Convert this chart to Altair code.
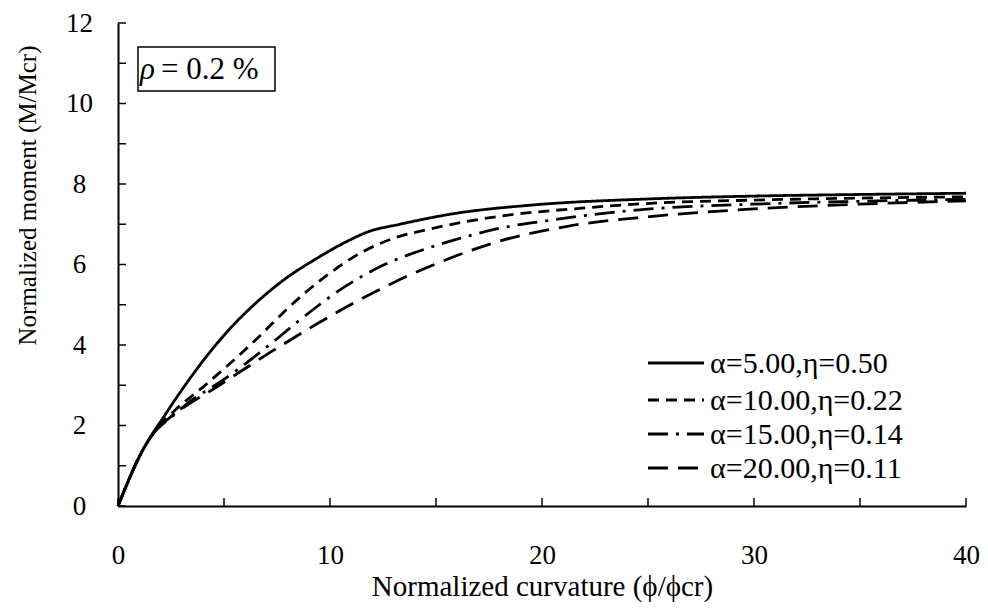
import altair as alt
import pandas as pd

# ---- data ----
series_names = ["α=5.00,η=0.50", "α=10.00,η=0.22", "α=15.00,η=0.14", "α=20.00,η=0.11"]

x_a5 = [0, 1.2, 2.2, 3.3, 4.42, 5.52, 6.23, 7.8, 9.37, 10.94, 11.73, 13.3, 15.8, 19.6, 25.1, 30, 35, 40]
y_a5 = [0, 1.42, 2.25, 3.1, 3.88, 4.54, 4.91, 5.61, 6.15, 6.61, 6.80, 7.0, 7.26, 7.48, 7.63, 7.70, 7.74, 7.77]

x_a10 = [0, 1.2, 1.67, 2.69, 3.95, 4.89, 5.68, 6.5, 7.25, 8.11, 9.68, 11.42, 12.99, 14.7, 18.0, 21.9, 25.1, 30, 35, 40]
y_a10 = [0, 1.42, 1.81, 2.38, 2.93, 3.36, 3.73, 4.13, 4.52, 4.96, 5.66, 6.28, 6.65, 6.88, 7.2, 7.40, 7.52, 7.60, 7.65, 7.68]

x_a15 = [0, 1.2, 1.67, 2.5, 3.48, 4.58, 5.83, 6.7, 7.56, 8.27, 9.5, 10.47, 11.42, 12.5, 13.6, 14.7, 15.8, 18.0, 20.4, 22.7, 25.1, 30, 35, 40]
y_a15 = [0, 1.42, 1.8, 2.2, 2.63, 3.0, 3.46, 3.82, 4.18, 4.49, 5.0, 5.37, 5.68, 5.98, 6.22, 6.42, 6.6, 6.9, 7.1, 7.26, 7.38, 7.5, 7.57, 7.62]

x_a20 = [0, 1.2, 1.67, 2.45, 3.3, 4.42, 5.83, 7.25, 8.3, 9.37, 10.79, 12.2, 13.6, 15.2, 18.0, 21.2, 25.1, 30, 35, 40]
y_a20 = [0, 1.42, 1.8, 2.2, 2.52, 2.88, 3.36, 3.84, 4.18, 4.52, 4.95, 5.34, 5.70, 6.06, 6.58, 6.95, 7.19, 7.38, 7.5, 7.58]

x_tick_labels = [0, 10, 20, 30, 40]
x_tick_marks = [0, 5, 10, 15, 20, 25, 30, 35, 40]
y_tick_labels = [0, 2, 4, 6, 8, 10, 12]
y_tick_marks = [0, 1, 2, 3, 4, 5, 6, 7, 8, 9, 10, 11, 12]

x_title = "Normalized curvature (ϕ/ϕcr)"
y_title = "Normalized moment (M/Mcr)"

# ---- styling ----
FONT = "Liberation Serif"
W, H = 848, 483
dashes = [[1, 0], [11, 7], [20, 8, 3, 8], [20, 10]]

rows = []
for name, xs, ys in zip(series_names, [x_a5, x_a10, x_a15, x_a20], [y_a5, y_a10, y_a15, y_a20]):
    for xv, yv in zip(xs, ys):
        rows.append({"series": name, "x": xv, "y": yv})
df = pd.DataFrame(rows)

xscale = alt.Scale(domain=[0, 40], nice=False, zero=False)
yscale = alt.Scale(domain=[0, 12], nice=False, zero=False)

x_axis = alt.Axis(
    values=x_tick_labels, ticks=False, tickSize=0, grid=False,
    domainColor="black", domainWidth=2,
    labelFont=FONT, labelFontSize=27, labelColor="black", labelPadding=57,
    labelBaseline="alphabetic", labelAlign="center", labelFlush=False,
    title=x_title, titleFont=FONT, titleFontSize=29, titleFontWeight="normal",
    titleColor="black", titleBaseline="alphabetic", titleY=89, titleX=W / 2,
    titleAlign="center")
y_axis = alt.Axis(
    values=y_tick_labels, ticks=False, tickSize=0, grid=False,
    domainColor="black", domainWidth=2,
    labelFont=FONT, labelFontSize=27, labelColor="black", labelPadding=39,
    labelAlign="center", labelBaseline="middle", labelFlush=False,
    title=y_title, titleFont=FONT, titleFontSize=25, titleFontWeight="normal",
    titleColor="black", titleAngle=270, titleBaseline="middle", titleAlign="center",
    titleX=-91, titleY=172)

lines = alt.Chart(df).mark_line(color="black", strokeWidth=2.8, interpolate="monotone").encode(
    x=alt.X("x:Q", scale=xscale, axis=x_axis),
    y=alt.Y("y:Q", scale=yscale, axis=y_axis),
    strokeDash=alt.StrokeDash("series:N", scale=alt.Scale(domain=series_names, range=dashes), legend=None),
    order=alt.Order("x:Q"),
)

xticks = alt.Chart(pd.DataFrame({"x": x_tick_marks})).mark_rule(color="black", strokeWidth=1.5).encode(
    x=alt.X("x:Q", scale=xscale, axis=x_axis),
    y=alt.value(H), y2=alt.value(H - 8),
)
yticks = alt.Chart(pd.DataFrame({"y": y_tick_marks})).mark_rule(color="black", strokeWidth=1.5).encode(
    y=alt.Y("y:Q", scale=yscale, axis=y_axis),
    x=alt.value(0), x2=alt.value(8),
)

one = pd.DataFrame({"k": [0]})
layers = [lines, xticks, yticks]

# legend (drawn inside the plot, lower right)
legend_y = [340, 377, 411, 445]
for name, dash, ly in zip(series_names, dashes, legend_y):
    layers.append(alt.Chart(one).mark_rule(color="black", strokeWidth=2.8, strokeDash=dash).encode(
        x=alt.value(530), x2=alt.value(586), y=alt.value(ly)))
    layers.append(alt.Chart(one).mark_text(text=name, font=FONT, fontSize=30, color="black",
                                           align="left", baseline="middle").encode(
        x=alt.value(592), y=alt.value(ly + 1)))

# rho annotation box
layers.append(alt.Chart(one).mark_rect(fill="white", stroke="black", strokeWidth=1.5).encode(
    x=alt.value(20), x2=alt.value(157), y=alt.value(24), y2=alt.value(68)))
layers.append(alt.Chart(one).mark_text(text="ρ", font=FONT, fontSize=31, fontStyle="italic",
                                       color="black", align="left", baseline="alphabetic").encode(
    x=alt.value(22), y=alt.value(56)))
layers.append(alt.Chart(one).mark_text(text="= 0.2 %", font=FONT, fontSize=31, color="black",
                                       align="left", baseline="alphabetic").encode(
    x=alt.value(43), y=alt.value(56)))

chart = alt.layer(*layers).properties(
    width=W, height=H,
    autosize=alt.AutoSizeParams(type="none"),
    padding={"left": 110, "top": 15, "right": 14, "bottom": 96},
    background="white",
).configure_view(stroke=None)

chart.save("out.html", embed_options={"renderer": "svg", "actions": False})
